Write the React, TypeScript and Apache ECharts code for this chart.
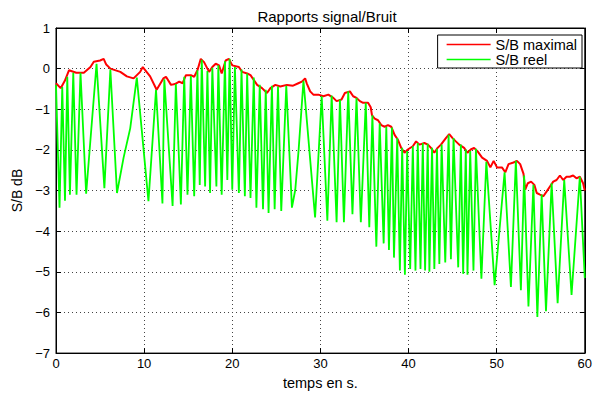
import React, { useEffect, useRef } from "react";
import * as echarts from "echarts";

const titleText = "Rapports signal/Bruit";
const xName = "temps en s.";
const yName = "S/B dB";
const seriesNames = ["S/B maximal", "S/B reel"];

// S/B maximal (red), [time s, dB]
const maxTimes = [
  0, 0.53, 1.0, 1.47, 2.3, 3.16, 3.91, 4.29, 5.0, 5.41, 5.7, 6.17, 7.3, 8.04, 8.8, 9.55, 9.85, 10.68, 11.42,
  12.18, 12.48, 13.05, 13.5, 13.98, 14.36, 14.74, 15.3, 15.68, 16.05, 16.43, 16.8, 17.37, 17.74, 18.12, 18.5,
  18.8, 19.25, 19.62, 20.0, 20.75, 21.12, 21.69, 22.07, 22.82, 23.38, 23.94, 24.33, 24.89, 25.45, 26.2, 26.9,
  27.5, 27.9, 28.27, 28.45, 28.84, 29.2, 29.77, 30.34, 30.9, 31.47, 31.84, 32.4, 32.78, 33.35, 33.72, 34.1,
  34.48, 34.85, 35.41, 35.71, 35.86, 36.17, 36.54, 36.91, 37.29, 37.67, 38.04, 38.42, 38.8, 39.17, 39.55,
  39.92, 40.49, 40.86, 41.24, 41.8, 42.2, 42.55, 42.93, 43.3, 43.68, 44.24, 44.62, 45.0, 45.37, 45.75, 46.31,
  46.69, 47.06, 47.44, 47.82, 48.35, 48.91, 49.29, 49.66, 50.04, 50.6, 50.98, 51.35, 51.91, 52.3, 52.67,
  53.05, 53.24, 53.54, 53.91, 54.28, 54.55, 54.92, 55.3, 55.68, 56.05, 56.42, 56.8, 57.18, 57.55, 57.93,
  58.3, 58.68, 59.06, 59.44, 59.81, 60.0,
];
const maxValues = [
  -0.36, -0.48, -0.3, -0.04, -0.1, -0.1, 0.04, 0.17, 0.2, 0.24, 0.1, 0.0, -0.08, -0.19, -0.24, -0.08, 0.04,
  -0.19, -0.52, -0.24, -0.2, -0.4, -0.38, -0.32, -0.36, -0.16, -0.16, -0.2, -0.04, 0.24, 0.16, -0.08, 0.04,
  0.12, 0.08, -0.12, 0.2, 0.24, 0.08, 0.04, -0.08, -0.12, -0.16, -0.4, -0.48, -0.6, -0.48, -0.4, -0.44, -0.4,
  -0.42, -0.36, -0.32, -0.24, -0.36, -0.56, -0.64, -0.64, -0.68, -0.64, -0.72, -0.8, -0.76, -0.6, -0.56, -0.68,
  -0.72, -0.8, -0.84, -0.84, -0.95, -1.15, -1.23, -1.27, -1.39, -1.43, -1.39, -1.43, -1.63, -1.75, -1.95,
  -2.07, -1.99, -1.91, -1.79, -1.87, -1.83, -1.87, -1.95, -2.07, -1.95, -1.87, -1.71, -1.61, -1.71, -1.79,
  -1.87, -1.95, -2.07, -1.99, -1.95, -2.03, -2.19, -2.27, -2.43, -2.27, -2.43, -2.43, -2.55, -2.35, -2.31,
  -2.27, -2.35, -2.59, -2.98, -2.82, -2.78, -2.86, -3.06, -3.1, -3.14, -3.02, -2.9, -2.78, -2.74, -2.63,
  -2.74, -2.66, -2.66, -2.63, -2.7, -2.66, -2.82, -3.0,
];

// S/B reel (green): peaks and troughs, [time s, dB]
const reelTimes = [
  0.0, 0.4, 0.71, 1.02, 1.28, 1.58, 1.96, 2.33, 2.78, 3.42, 4.6, 5.49, 6.17, 6.92, 7.67, 8.42, 9.17, 10.49,
  11.35, 12.08, 12.29, 13.23, 13.6, 14.17, 14.55, 14.92, 15.3, 15.68, 16.05, 16.31, 16.54, 16.92, 17.18, 17.48,
  17.74, 18.2, 18.42, 18.8, 19.17, 19.44, 19.7, 20.0, 20.3, 20.75, 21.05, 21.43, 21.69, 22.07, 22.44, 22.74,
  23.12, 23.49, 23.8, 24.12, 24.5, 24.81, 25.19, 25.56, 26.13, 26.77, 27.15, 27.52, 28.08, 29.4, 30.15, 30.79,
  31.28, 31.84, 32.22, 32.67, 33.16, 33.64, 34.1, 34.59, 35.15, 35.55, 35.9, 36.35, 36.73, 37.18, 37.48,
  37.78, 38.12, 38.35, 38.72, 39.02, 39.28, 39.59, 39.85, 40.19, 40.49, 40.79, 41.05, 41.36, 41.62, 41.88,
  42.18, 42.37, 42.67, 42.93, 43.23, 43.5, 43.76, 44.17, 44.55, 44.81, 45.11, 45.64, 45.94, 46.2, 46.5, 46.69,
  47.0, 47.37, 47.65, 48.27, 48.83, 49.77, 50.9, 51.62, 52.18, 52.75, 53.12, 53.61, 54.17, 54.62, 55.11,
  55.6, 56.24, 56.92, 57.67, 58.5, 59.44, 60.0,
];
const reelValues = [
  -0.4, -3.42, -0.45, -3.25, -0.2, -3.1, -0.1, -3.1, -0.1, -3.08, 0.12, -2.94, -0.02, -3.06, -2.19, -1.47,
  -0.22, -3.26, -0.52, -3.32, -0.26, -3.38, -0.38, -3.34, -0.2, -3.1, -0.18, -3.14, -0.04, -2.86, 0.22, -2.9,
  -0.06, -3.06, 0.02, -2.9, 0.08, -3.1, 0.18, -2.74, 0.24, -2.98, 0.04, -3.06, -0.02, -3.14, -0.12, -3.18,
  -0.22, -3.42, -0.4, -3.46, -0.52, -3.55, -0.42, -3.46, -0.44, -3.5, -0.42, -3.42, -2.98, -2.03, -0.3, -3.66,
  -0.68, -3.74, -0.66, -3.78, -0.76, -3.78, -0.56, -3.58, -0.72, -3.78, -0.84, -3.9, -1.15, -4.38, -1.35,
  -4.3, -1.43, -4.46, -1.45, -4.65, -1.71, -4.97, -1.95, -5.07, -2.03, -4.93, -1.91, -4.97, -1.83, -4.93,
  -1.83, -4.97, -1.85, -5.0, -1.95, -4.93, -1.97, -4.81, -1.87, -4.77, -1.63, -4.69, -1.71, -4.89, -1.87,
  -5.05, -1.99, -5.07, -2.03, -4.97, -1.97, -5.17, -2.29, -5.33, -2.55, -5.37, -2.27, -5.45, -2.63, -5.85,
  -2.86, -6.11, -3.1, -5.97, -2.82, -5.77, -2.74, -5.57, -2.66, -5.15,
];

const xTicks = { min: 0, max: 60, interval: 10 };
const yTicks = { min: -7, max: 1, interval: 1 };

const FONT = "'Liberation Sans', Arial, Helvetica, sans-serif";

export default function App() {
  const ref = useRef<HTMLDivElement>(null);
  useEffect(() => {
    if (!ref.current) return;
    const chart = echarts.init(ref.current, undefined, { renderer: "svg" });
    const maxData = maxTimes.map((t, i) => [t, maxValues[i]]);
    const reelData = reelTimes.map((t, i) => [t, reelValues[i]]);
    const minus = (v: number) => (v < 0 ? "\u2212" + Math.abs(v) : String(v));
    const grid = { left: 56, top: 28, width: 532, height: 336 };
    const tickInside = { show: true, inside: true, length: 5, lineStyle: { color: "#000", width: 1 } };
    chart.setOption({
      animation: false,
      backgroundColor: "#fff",
      textStyle: { fontFamily: FONT },
      title: {
        text: titleText,
        left: 322,
        textAlign: "center",
        top: 4,
        textStyle: { fontFamily: FONT, fontSize: 15, fontWeight: "normal", color: "#000" },
      },
      legend: {
        orient: "vertical",
        right: 13,
        top: 35,
        data: seriesNames,
        icon: "rect",
        padding: [2, 5, 1, 9],
        itemWidth: 44,
        itemHeight: 1.5,
        itemGap: 0,
        borderColor: "#000",
        borderWidth: 1,
        backgroundColor: "#fff",
        borderRadius: 0,
        textStyle: { fontFamily: FONT, fontSize: 14.5, color: "#000", lineHeight: 15 },
      },
      grid: { ...grid, show: true, borderColor: "#000", borderWidth: 1, backgroundColor: "#fff" },
      xAxis: [
        {
          type: "value",
          min: xTicks.min,
          max: xTicks.max,
          interval: xTicks.interval,
          name: xName,
          nameLocation: "middle",
          nameGap: 18,
          nameTextStyle: { fontFamily: FONT, fontSize: 14.5, color: "#000" },
          axisLine: { show: true, onZero: false, lineStyle: { color: "#000", width: 1 } },
          axisTick: tickInside,
          axisLabel: { fontFamily: FONT, fontSize: 13, color: "#000", margin: 4 },
          splitLine: { show: true, lineStyle: { color: "#444", width: 1, type: [1, 3] } },
        },
        {
          type: "value",
          position: "top",
          min: xTicks.min,
          max: xTicks.max,
          interval: xTicks.interval,
          axisLine: { show: true, onZero: false, lineStyle: { color: "#000", width: 1 } },
          axisTick: tickInside,
          axisLabel: { show: false },
          splitLine: { show: false },
        },
      ],
      yAxis: [
        {
          type: "value",
          min: yTicks.min,
          max: yTicks.max,
          interval: yTicks.interval,
          name: yName,
          nameLocation: "middle",
          nameGap: 29,
          nameTextStyle: { fontFamily: FONT, fontSize: 14, color: "#000" },
          axisLine: { show: true, onZero: false, lineStyle: { color: "#000", width: 1 } },
          axisTick: tickInside,
          axisLabel: { fontFamily: FONT, fontSize: 13, color: "#000", margin: 6, formatter: minus },
          splitLine: { show: true, lineStyle: { color: "#444", width: 1, type: [1, 3] } },
        },
        {
          type: "value",
          position: "right",
          min: yTicks.min,
          max: yTicks.max,
          interval: yTicks.interval,
          axisLine: { show: true, onZero: false, lineStyle: { color: "#000", width: 1 } },
          axisTick: tickInside,
          axisLabel: { show: false },
          splitLine: { show: false },
        },
      ],
      series: [
        {
          name: seriesNames[0],
          type: "line",
          xAxisIndex: 0,
          yAxisIndex: 0,
          data: maxData,
          showSymbol: false,
          symbol: "none",
          lineStyle: { color: "#ff0000", width: 2 },
          itemStyle: { color: "#ff0000" },
          z: 2,
        },
        {
          name: seriesNames[1],
          type: "line",
          xAxisIndex: 0,
          yAxisIndex: 0,
          data: reelData,
          showSymbol: false,
          symbol: "none",
          lineStyle: { color: "#00ff00", width: 1.8 },
          itemStyle: { color: "#00ff00" },
          z: 3,
        },
      ],
    });
    return () => chart.dispose();
  }, []);
  return <div ref={ref} style={{ width: 595, height: 395, position: "absolute", left: 0, top: 0 }} />;
}
